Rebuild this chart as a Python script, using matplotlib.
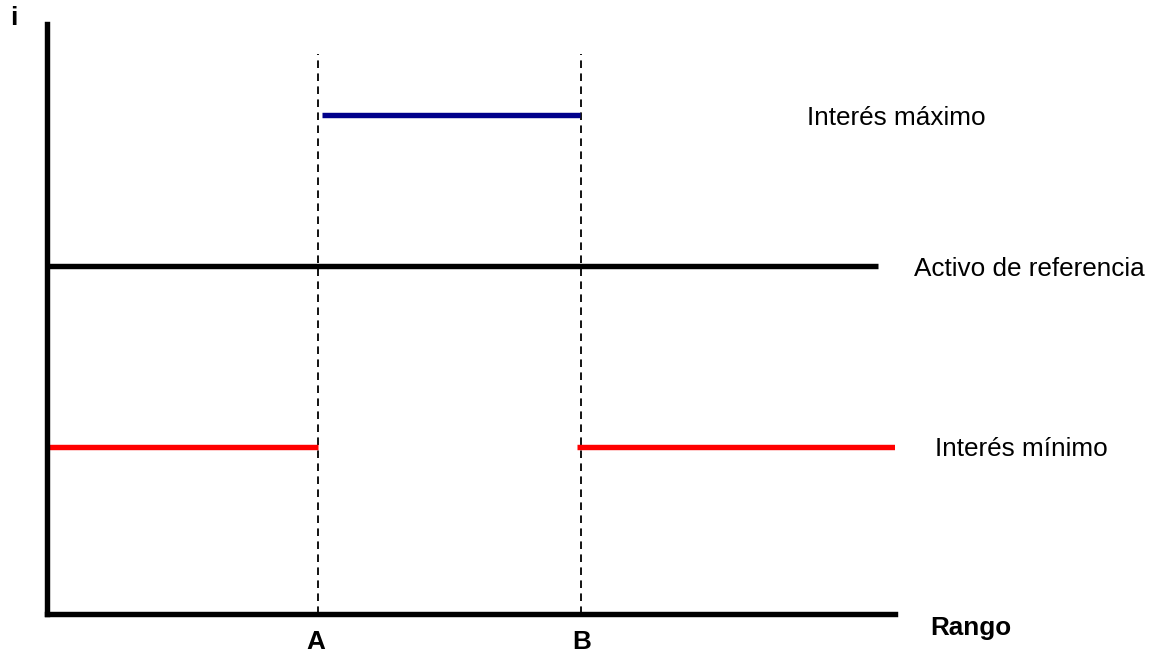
import matplotlib.pyplot as plt

plt.rcParams['font.family'] = ['Liberation Sans', 'DejaVu Sans']

# bounds of the range
x_a = 3.2
x_b = 6.3
x_end = 10.0
ref_end = 9.8
dash_top = 9.5

# interest levels
i_max = 8.45
i_ref = 5.9
i_min = 2.83

fig = plt.figure(figsize=(11.5, 6.54), dpi=100)
ax = fig.add_axes([47/1150, 40/654, 848/1150, 590/654])
ax.set_xlim(0, x_end)
ax.set_ylim(0, 10)

for s in ['top', 'right']:
    ax.spines[s].set_visible(False)
for s in ['left', 'bottom']:
    ax.spines[s].set_linewidth(3.9)
    ax.spines[s].set_color('black')
ax.set_xticks([])
ax.set_yticks([])

# dashed guides at A and B
ax.vlines([x_a, x_b], 0, dash_top, colors='black', linewidth=1.3,
          linestyles=(0, (4.2, 3)))

# maximum interest between A and B
ax.hlines(i_max, x_a + 0.04, x_b - 0.02, colors='#00008B', linewidth=3.9)
# reference asset
ax.hlines(i_ref, 0, ref_end, colors='black', linewidth=3.9)
# minimum interest outside the range
ax.hlines(i_min, 0, x_a, colors='red', linewidth=3.9)
ax.hlines(i_min, x_b - 0.05, x_end, colors='red', linewidth=3.9)

fs = 18.8
ax.text(8.96, i_max - 0.05, 'Interés máximo', fontsize=fs, ha='left', va='center', clip_on=False)
ax.text(10.22, i_ref - 0.06, 'Activo de referencia', fontsize=fs, ha='left', va='center', clip_on=False)
ax.text(10.47, i_min - 0.03, 'Interés mínimo', fontsize=fs, ha='left', va='center', clip_on=False)
ax.text(10.41, -0.24, 'Rango', fontsize=fs, fontweight='bold', ha='left', va='center', clip_on=False)
ax.text(x_a - 0.03, -0.47, 'A', fontsize=fs, fontweight='bold', ha='center', va='center', clip_on=False)
ax.text(x_b + 0.01, -0.47, 'B', fontsize=fs, fontweight='bold', ha='center', va='center', clip_on=False)
ax.text(-0.39, 10.1, 'i', fontsize=fs, fontweight='bold', ha='center', va='center', clip_on=False)

fig.savefig('out.png', dpi=100)
